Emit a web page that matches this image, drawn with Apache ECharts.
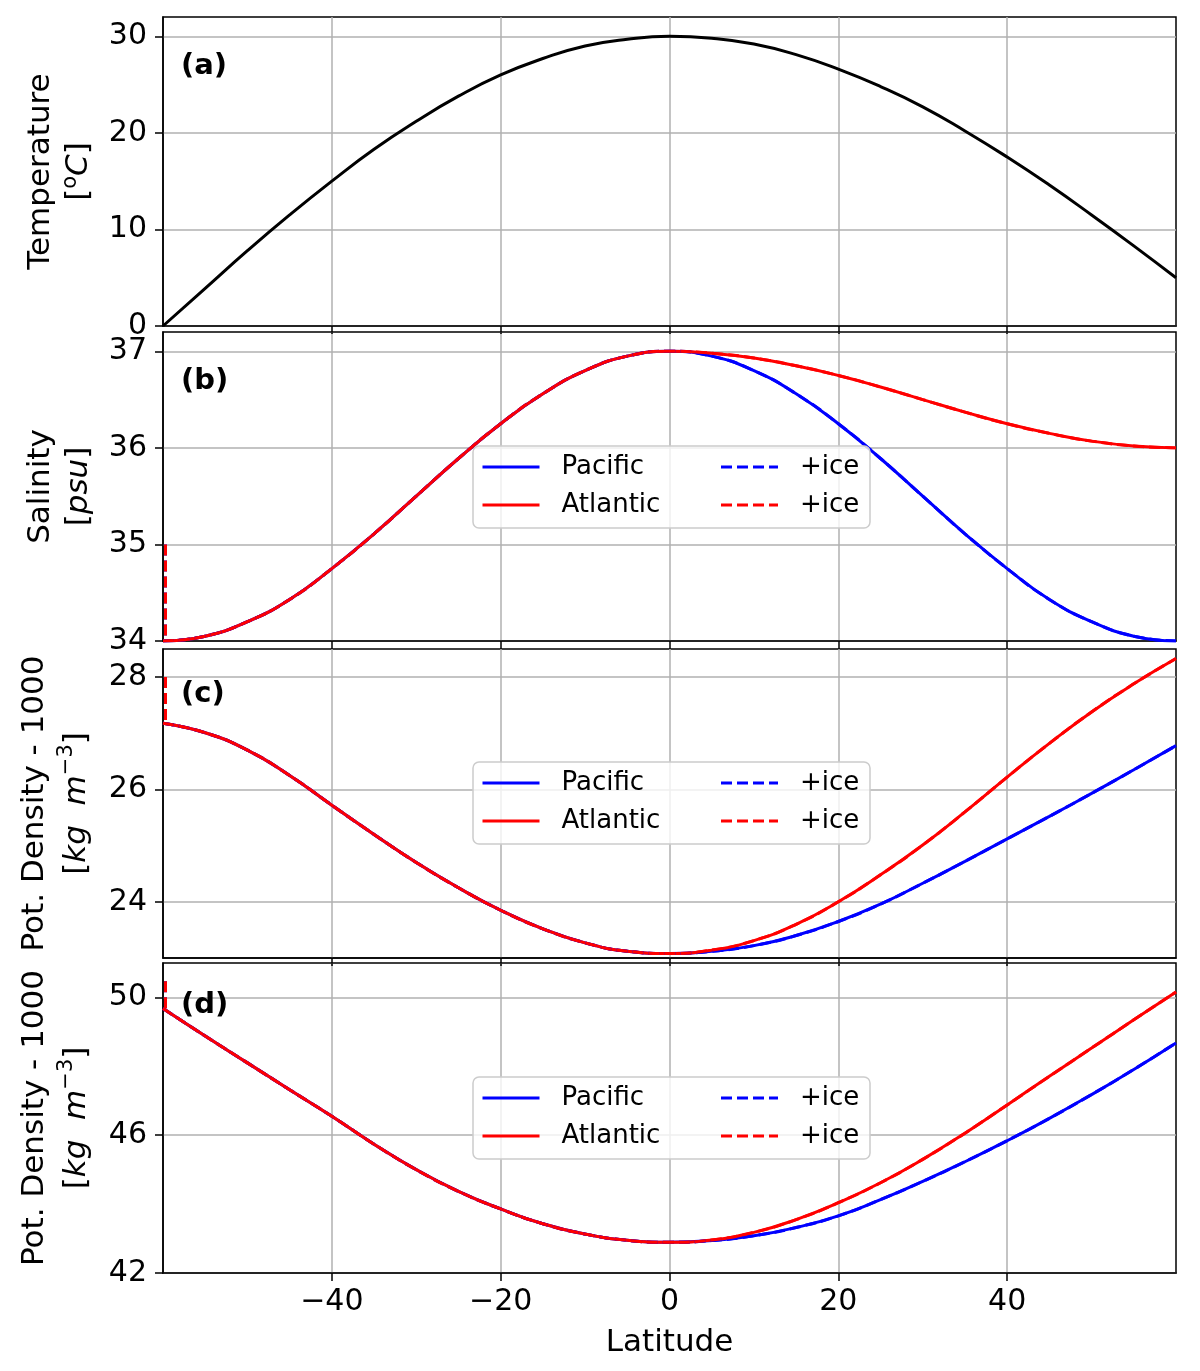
<!DOCTYPE html>
<html lang="en">
<head>
<meta charset="UTF-8">
<title>Surface temperature, salinity and density by latitude</title>
<script src="https://cdn.jsdelivr.net/npm/echarts@6.0.0/dist/echarts.min.js"></script>
<style>
    html, body { margin: 0; padding: 0; background: #fff; }
    #main { width: 1200px; height: 1371px; }
</style>
</head>
<body>
<div id="main"></div>
<script type="text/javascript">

// latitude grid of the read values
var lats = [-60, -55, -50, -45, -40, -35, -30, -25, -20, -15, -10, -5, 0,
            5, 10, 15, 20, 25, 30, 35, 40, 45, 50, 55, 60];

// (a) temperature [C]
var temperature = [0.0, 3.9, 7.8, 11.5, 15.0, 18.3, 21.2, 23.8, 26.0, 27.7, 29.0, 29.7, 30.0,
                   29.8, 29.2, 28.1, 26.6, 24.8, 22.7, 20.2, 17.5, 14.6, 11.5, 8.3, 5.0];

// (b) salinity [psu]
var salPacific  = [34.0, 34.05, 34.2, 34.43, 34.75, 35.11, 35.5, 35.89, 36.25, 36.56, 36.8, 36.95, 37.0,
                   36.95, 36.8, 36.56, 36.25, 35.89, 35.5, 35.11, 34.75, 34.43, 34.2, 34.05, 34.0];
var salAtlantic = [34.0, 34.05, 34.2, 34.43, 34.75, 35.11, 35.5, 35.89, 36.25, 36.56, 36.8, 36.95, 37.0,
                   36.98, 36.93, 36.85, 36.75, 36.63, 36.5, 36.37, 36.25, 36.15, 36.07, 36.02, 36.0];

// (c) potential density - 1000, surface reference
var sig0Pacific  = [27.18, 27.01, 26.70, 26.25, 25.72, 25.20, 24.70, 24.25, 23.85, 23.52, 23.27, 23.12, 23.08,
                    23.12, 23.22, 23.40, 23.65, 23.96, 24.33, 24.72, 25.12, 25.52, 25.93, 26.35, 26.78];
var sig0Atlantic = [27.18, 27.01, 26.70, 26.25, 25.72, 25.20, 24.70, 24.25, 23.85, 23.52, 23.27, 23.12, 23.08,
                    23.14, 23.31, 23.60, 24.00, 24.48, 25.01, 25.60, 26.22, 26.82, 27.38, 27.88, 28.33];

// (d) potential density - 1000, deep reference
var sigDPacific  = [49.68, 48.88, 48.10, 47.32, 46.55, 45.74, 45.00, 44.37, 43.86, 43.43, 43.13, 42.95, 42.89,
                    42.94, 43.08, 43.32, 43.66, 44.13, 44.66, 45.23, 45.84, 46.49, 47.18, 47.91, 48.68];
var sigDAtlantic = [49.68, 48.88, 48.10, 47.32, 46.55, 45.74, 45.00, 44.37, 43.86, 43.43, 43.13, 42.95, 42.89,
                    42.96, 43.18, 43.55, 44.04, 44.62, 45.30, 46.06, 46.88, 47.71, 48.53, 49.35, 50.16];

// +ice: same curves plus a jump at the southern edge
var iceLat = -59.7;
var iceSal  = [35.0, 34.0];
var iceSig0 = [28.0, 27.18];
var iceSigD = [50.47, 49.68];

// tick labels
var latTicks  = [-40, -20, 0, 20, 40];
var tempTicks = [0, 10, 20, 30];
var salTicks  = [34, 35, 36, 37];
var sig0Ticks = [24, 26, 28];
var sigDTicks = [42, 46, 50];

var FONT = 'DejaVu Sans';

function pairs(ys) {
    return lats.map(function (x, i) { return [x, ys[i]]; });
}
function spike(ys) {
    return [[iceLat, ys[0]], [iceLat, ys[1]]];
}

var grids = [
    { left: 163, right: 24, top: 17,  height: 309 },
    { left: 163, right: 24, top: 332, height: 309 },
    { left: 163, right: 24, top: 649, height: 309 },
    { left: 163, right: 24, top: 963, height: 310 }
];
grids.forEach(function (g) {
    g.show = true;
    g.borderColor = '#000';
    g.borderWidth = 1.5;
    g.backgroundColor = 'transparent';
});

function xAxisFor(i) {
    var last = i === 3;
    return {
        type: 'value', gridIndex: i, min: -60, max: 60,
        name: last ? 'Latitude' : '',
        nameLocation: 'middle', nameGap: 54,
        nameTextStyle: { fontFamily: FONT, fontSize: 31, color: '#000' },
        axisLine: { show: true, onZero: false, lineStyle: { color: '#000', width: 1.5 } },
        axisTick: { show: true, length: 8, inside: false, customValues: latTicks,
                    lineStyle: { color: '#000', width: 1.5 } },
        axisLabel: { show: last, customValues: latTicks, margin: 14,
                     fontFamily: FONT, fontSize: 30, color: '#000',
                     formatter: function (v) { return String(v).replace('-', '\u2212'); } },
        splitLine: { show: true, lineStyle: { color: '#b0b0b0', width: 1.5 } }
    };
}

var nameRich = {
    it:  { fontFamily: FONT, fontSize: 31, fontStyle: 'italic', color: '#000' },
    sup: { fontFamily: FONT, fontSize: 21, color: '#000', verticalAlign: 'top', lineHeight: 21 },
    supit: { fontFamily: FONT, fontSize: 21, fontStyle: 'italic', color: '#000', verticalAlign: 'top', lineHeight: 21 }
};

function yAxisFor(i, min, max, ticks, name, lh) {
    return {
        type: 'value', gridIndex: i, min: min, max: max,
        name: name, nameLocation: 'middle', nameGap: 65, nameRotate: 90,
        nameTextStyle: { fontFamily: FONT, fontSize: 31, color: '#000', lineHeight: lh, rich: nameRich },
        axisLine: { show: true, onZero: false, lineStyle: { color: '#000', width: 1.5 } },
        axisTick: { show: true, length: 8, customValues: ticks, lineStyle: { color: '#000', width: 1.5 } },
        axisLabel: { customValues: ticks, margin: 16, fontFamily: FONT, fontSize: 30, color: '#000' },
        splitLine: { show: true, lineStyle: { color: '#b0b0b0', width: 1.5 } }
    };
}

function line(name, i, data, color, dashed) {
    return {
        name: name, type: 'line', xAxisIndex: i, yAxisIndex: i,
        data: data, smooth: dashed === 'spike' ? false : true,
        symbol: 'none', showSymbol: false, silent: true, animation: false,
        lineStyle: { color: color, width: 3, type: dashed ? [11, 5] : 'solid' },
        itemStyle: { color: color }
    };
}

function panelSeries(i, pac, atl, ice) {
    return [
        line('Pacific', i, pairs(pac), '#0000ff', false),
        line('Atlantic', i, pairs(atl), '#ff0000', false),
        line('Pacific +ice', i, pairs(pac), '#0000ff', true),
        line('Pacific +ice', i, spike(ice), '#0000ff', 'spike'),
        line('Atlantic +ice', i, pairs(atl), '#ff0000', true),
        line('Atlantic +ice', i, spike(ice), '#ff0000', 'spike')
    ];
}

function legendAt(top) {
    return {
        left: 473, top: top, width: 400, orient: 'horizontal',
        itemWidth: 57, itemHeight: 20, itemGap: 10,
        padding: [7, 8, 9, 8],
        selectedMode: false,
        backgroundColor: 'rgba(255,255,255,0.8)',
        borderColor: '#cccccc', borderWidth: 1.5, borderRadius: 6,
        itemStyle: { opacity: 0 },
        lineStyle: { width: 3 },
        textStyle: { fontFamily: FONT, fontSize: 26, color: '#000', lineHeight: 28,
                     width: 148, padding: [0, 0, 0, 17] },
        formatter: function (n) { return n.indexOf('+ice') >= 0 ? '+ice' : n; },
        data: [
            { name: 'Pacific' },
            { name: 'Pacific +ice', textStyle: { width: 62 } },
            { name: 'Atlantic' },
            { name: 'Atlantic +ice', textStyle: { width: 62 } }
        ]
    };
}

function tag(text, top) {
    return { text: text, left: 181, top: top, padding: 0,
             textStyle: { fontFamily: FONT, fontSize: 29, fontWeight: 'bold', color: '#000' } };
}

var series = [
    line('Temperature', 0, pairs(temperature), '#000000', false)
].concat(
    panelSeries(1, salPacific, salAtlantic, iceSal),
    panelSeries(2, sig0Pacific, sig0Atlantic, iceSig0),
    panelSeries(3, sigDPacific, sigDAtlantic, iceSigD)
);

var myChart = echarts.init(document.getElementById('main'), null, { renderer: 'canvas' });
var option = {
    backgroundColor: '#fff',
    animation: false,
    title: [tag('(a)', 52), tag('(b)', 367), tag('(c)', 680), tag('(d)', 991)],
    legend: [legendAt(446), legendAt(762), legendAt(1077)],
    grid: grids,
    xAxis: [xAxisFor(0), xAxisFor(1), xAxisFor(2), xAxisFor(3)],
    yAxis: [
        yAxisFor(0, 0, 32, tempTicks, 'Temperature\n[{sup|o}{it|C}]', 38),
        yAxisFor(1, 34, 37.2, salTicks, 'Salinity\n[{it|psu}]', 38),
        yAxisFor(2, 23, 28.5, sig0Ticks, 'Pot. Density - 1000\n[{it|kg  m}{sup|\u22123}]', 42),
        yAxisFor(3, 42, 51, sigDTicks, 'Pot. Density - 1000\n[{it|kg  m}{sup|\u22123}]', 42)
    ],
    series: series
};
myChart.setOption(option);

</script>
</body>
</html>
